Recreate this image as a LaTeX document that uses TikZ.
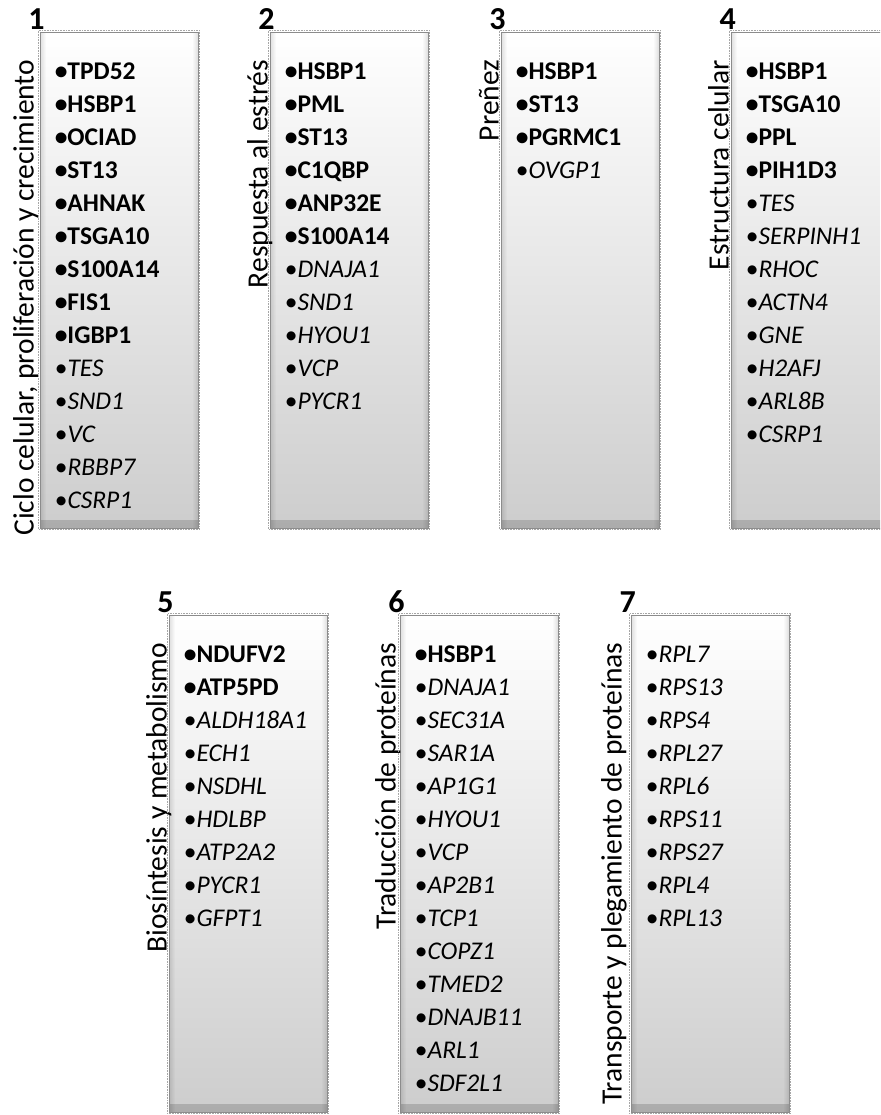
\documentclass[tikz,border=0pt]{standalone}
\usepackage{fontspec}
\setmainfont{Carlito}
\usetikzlibrary{fadings}

\definecolor{boxlow}{HTML}{CDCDCD}
\definecolor{boxedge}{HTML}{8C8C8C}

% one gene entry: bullet plus symbol, bold or italic
\newcommand\geneb[1]{\bfseries •#1}
\newcommand\genei[1]{•\textit{#1}}

\tikzset{
  genebox/.style={
    draw=boxedge, line width=0.8pt, inner sep=0pt,
    minimum width=158, minimum height=#1,
    top color=white, bottom color=boxlow,
    path picture={
      \fill[black, fill opacity=0.16, path fading=north]
        (path picture bounding box.south west) rectangle
        ([yshift=8pt]path picture bounding box.south east);
      \fill[black, fill opacity=0.12, path fading=east]
        (path picture bounding box.south west) rectangle
        ([xshift=6pt]path picture bounding box.north west);
      \fill[black, fill opacity=0.12, path fading=west]
        ([xshift=-6pt]path picture bounding box.south east) rectangle
        (path picture bounding box.north east);
    }},
  boxrim/.style={densely dotted, gray!70, line width=0.6pt},
  gene/.style={anchor=base west, inner sep=0pt,
    font=\fontsize{25.5}{25.5}\selectfont},
  catlabel/.style={anchor=base east, rotate=90, inner sep=0pt,
    font=\fontsize{29.5}{29.5}\selectfont},
  boxnum/.style={anchor=south, inner sep=0pt,
    font=\bfseries\fontsize{32}{32}\selectfont},
}

% gene list inside a box: entries are b/NAME (bold) or i/NAME (italic)
\newcommand\genelist[2]{%
  \foreach [count=\k from 0] \w/\g in {#2}
    \node[gene] (#1-\k) at ([xshift=15pt, yshift={-(48+33*\k)}]#1.north west)
      {\csname gene\w\endcsname{\g}};%
}

% number above the corner and rotated category name beside the box
\newcommand\boxhead[4]{%
  \node[boxnum] (#1-num) at ([xshift=-3pt, yshift=2pt]#1.north west) {#2};
  \node[catlabel] (#1-cat) at ([xshift=-#3, yshift=-28pt]#1.north west) {#4};
  \draw[boxrim] ([xshift=-1pt, yshift=1pt]#1.north west) rectangle
                ([xshift=1pt, yshift=-1pt]#1.south east);
}

\begin{document}
\begin{tikzpicture}[x=1pt, y=-1pt]
\useasboundingbox (0,0) rectangle (880,1115);
\clip (0,0) rectangle (880,1115);
\fill[white] (0,0) rectangle (880,1115);

% upper row
\node[genebox=496] (b1) at (119,280) {};
\node[genebox=496] (b2) at (349,280) {};
\node[genebox=496] (b3) at (580,280) {};
\node[genebox=496] (b4) at (810,280) {};
% lower row
\node[genebox=497] (b5) at (248,863.5) {};
\node[genebox=497] (b6) at (479,863.5) {};
\node[genebox=497] (b7) at (710,863.5) {};

\boxhead{b1}{1}{6pt}{Ciclo celular, proliferación y crecimiento}
\boxhead{b2}{2}{2pt}{Respuesta al estrés}
\boxhead{b3}{3}{2pt}{Preñez}
\boxhead{b4}{4}{2pt}{Estructura celular}
\boxhead{b5}{5}{2pt}{Biosíntesis y metabolismo}
\boxhead{b6}{6}{4pt}{Traducción de proteínas}
\boxhead{b7}{7}{9pt}{Transporte y plegamiento de proteínas}

\genelist{b1}{b/TPD52, b/HSBP1, b/OCIAD, b/ST13, b/AHNAK, b/TSGA10, b/S100A14,
  b/FIS1, b/IGBP1, i/TES, i/SND1, i/VC, i/RBBP7, i/CSRP1}
\genelist{b2}{b/HSBP1, b/PML, b/ST13, b/C1QBP, b/ANP32E, b/S100A14,
  i/DNAJA1, i/SND1, i/HYOU1, i/VCP, i/PYCR1}
\genelist{b3}{b/HSBP1, b/ST13, b/PGRMC1, i/OVGP1}
\genelist{b4}{b/HSBP1, b/TSGA10, b/PPL, b/PIH1D3, i/TES, i/SERPINH1, i/RHOC,
  i/ACTN4, i/GNE, i/H2AFJ, i/ARL8B, i/CSRP1}
\genelist{b5}{b/NDUFV2, b/ATP5PD, i/ALDH18A1, i/ECH1, i/NSDHL, i/HDLBP,
  i/ATP2A2, i/PYCR1, i/GFPT1}
\genelist{b6}{b/HSBP1, i/DNAJA1, i/SEC31A, i/SAR1A, i/AP1G1, i/HYOU1, i/VCP,
  i/AP2B1, i/TCP1, i/COPZ1, i/TMED2, i/DNAJB11, i/ARL1, i/SDF2L1}
\genelist{b7}{i/RPL7, i/RPS13, i/RPS4, i/RPL27, i/RPL6, i/RPS11, i/RPS27,
  i/RPL4, i/RPL13}
\end{tikzpicture}
\end{document}
